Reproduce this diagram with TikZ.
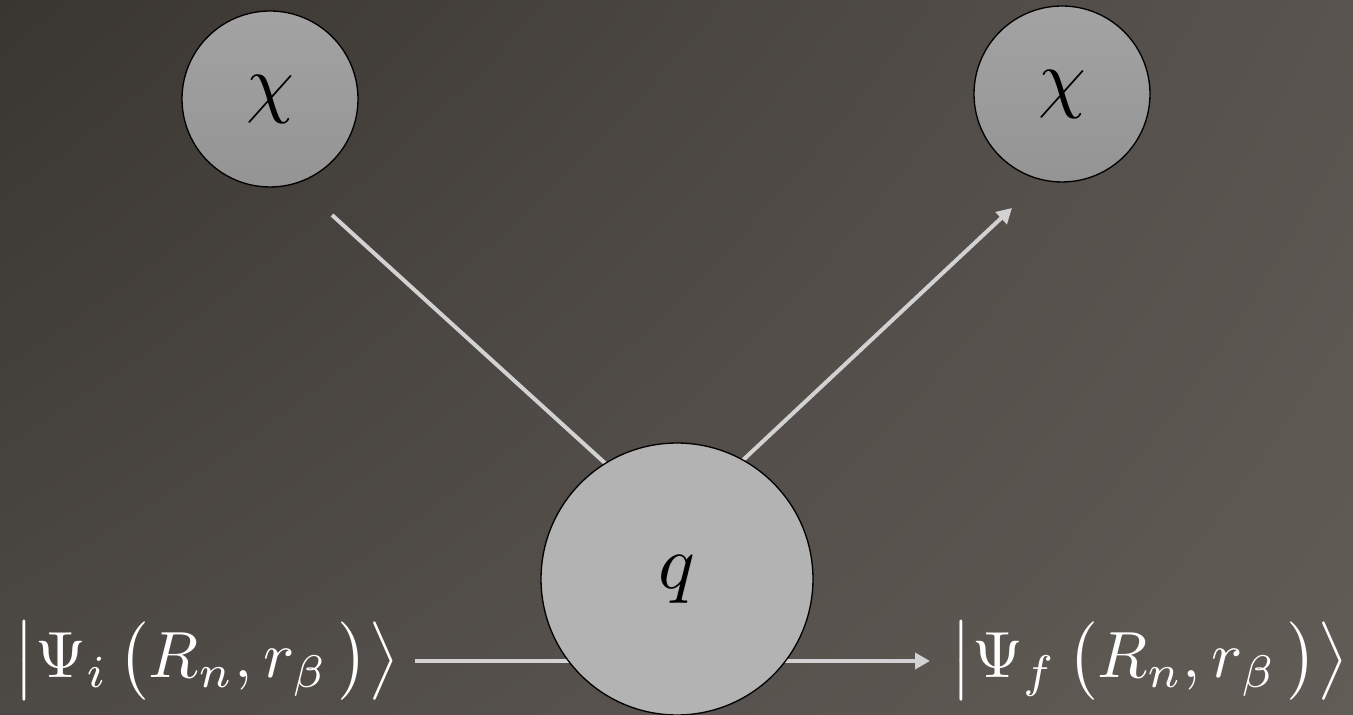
\documentclass[tikz,border=0pt]{standalone}
\usetikzlibrary{arrows.meta,shadings}

\pgfdeclarelayer{bg}
\pgfdeclarelayer{wires}
\pgfsetlayers{bg,wires,main}

\definecolor{bgTL}{RGB}{57,53,48}
\definecolor{bgTR}{RGB}{89,84,79}
\definecolor{bgBL}{RGB}{77,73,69}
\definecolor{bgBR}{RGB}{98,92,86}
\definecolor{wirecol}{RGB}{210,210,210}
\definecolor{smalltop}{RGB}{163,163,163}
\definecolor{smallbot}{RGB}{148,148,148}
\definecolor{bigfill}{RGB}{179,179,179}

% enlarged math for circle labels and for the kets
\newcommand\circlabel[1]{\scalebox{4.35}{$#1$}}
\newcommand\ketlabel[1]{\scalebox{3.72}{$#1$}}

\tikzset{
  particle/.style={circle, draw=black, line width=0.75pt,
    top color=smalltop, bottom color=smallbot,
    minimum size=3.52cm, inner sep=0pt},
  vertex/.style={circle, draw=black, line width=0.75pt, fill=bigfill,
    minimum size=5.44cm, inner sep=0pt},
  ket/.style={text=white, inner sep=0.4cm},
  wire/.style={draw=wirecol, line width=0.08cm},
  tip/.style={-{Triangle[length=0.3cm,width=0.32cm]}}
}

\begin{document}
\begin{tikzpicture}[x=0.02cm, y=-0.02cm]
  \useasboundingbox (0,0) rectangle (1353,715);

  % backdrop
  \begin{pgfonlayer}{bg}
    \shade[upper left=bgTL, upper right=bgTR, lower left=bgBL, lower right=bgBR]
      (0,0) rectangle (1353,715);
  \end{pgfonlayer}

  % nodes
  \node[particle] (chiIn)  at (270,99) {\circlabel{\chi}};
  \node[particle] (chiOut) at (1062,94) {\circlabel{\chi}};
  \node[vertex]   (q)      at (677,579) {\circlabel{q}};
  \node[ket, inner xsep=0.3cm, anchor=east] (psiI) at (415,661)
    {\ketlabel{\bigl|\Psi_i\,\bigl(R_n,r_\beta\,\bigr)\bigr\rangle}};
  \node[ket, anchor=west] (psiF) at (930,661)
    {\ketlabel{\bigl|\Psi_f\,\bigl(R_n,r_\beta\,\bigr)\bigr\rangle}};

  % free ends of the scattering lines
  \coordinate (chiInEnd)  at (332,215);
  \coordinate (qInner1)   at (639,494);
  \coordinate (qInner2)   at (710,491);
  \coordinate (chiOutEnd) at (1012,208);

  % connectors, passing under the vertex
  \begin{pgfonlayer}{wires}
    \draw[wire] (chiInEnd) -- (qInner1);
    \draw[wire, tip] (qInner2) -- (chiOutEnd);
    \draw[wire] (psiI.east) -- (psiI.east -| q.center);
    \draw[wire, tip] (psiF.west -| q.center) -- (psiF.west);
  \end{pgfonlayer}
\end{tikzpicture}
\end{document}
